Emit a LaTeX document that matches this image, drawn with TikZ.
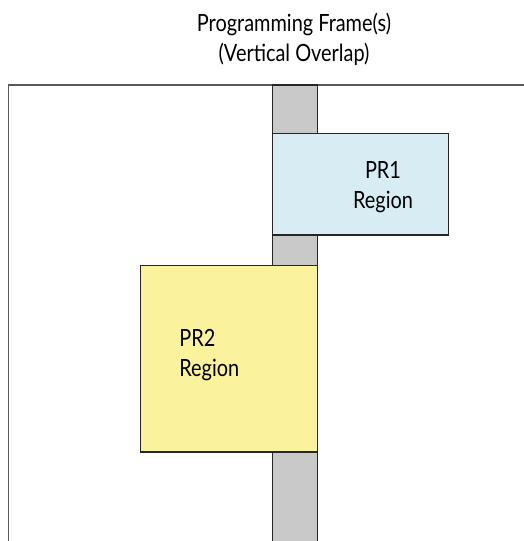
\documentclass[tikz,border=0pt]{standalone}
\usepackage{fontspec}
\setmainfont{Lato}[FakeStretch=0.84]
\begin{document}
\begin{tikzpicture}[
  x=0.02cm, y=-0.02cm,
  lbl/.style={font=\fontsize{13.5}{17}\selectfont, align=center, inner sep=0pt},
  region/.style={draw=black!85, line width=0.8pt},
]
  \useasboundingbox (0,0) rectangle (524,541);

  \node[lbl] (title) at (294,39) {Programming Frame(s)\\(Vertical Overlap)};

  % device outline and frame column
  \draw[draw=black!65, line width=0.8pt] (8.5,600) -- (8.5,85) -- (600,85);
  \draw[region, fill=black!21] (272.5,85) rectangle (317.5,600);

  \draw[region, fill={rgb,255:red,215;green,237;blue,243}] (272.5,133.5) rectangle (448.5,235);
  \draw[region, fill={rgb,255:red,250;green,242;blue,157}] (140.5,265.5) rectangle (317.5,452);

  \node[lbl] (pr1) at (383,187) {PR1\\Region};
  \node[lbl, align=left, anchor=west] (pr2) at (179,355) {PR2\\Region};
\end{tikzpicture}
\end{document}
